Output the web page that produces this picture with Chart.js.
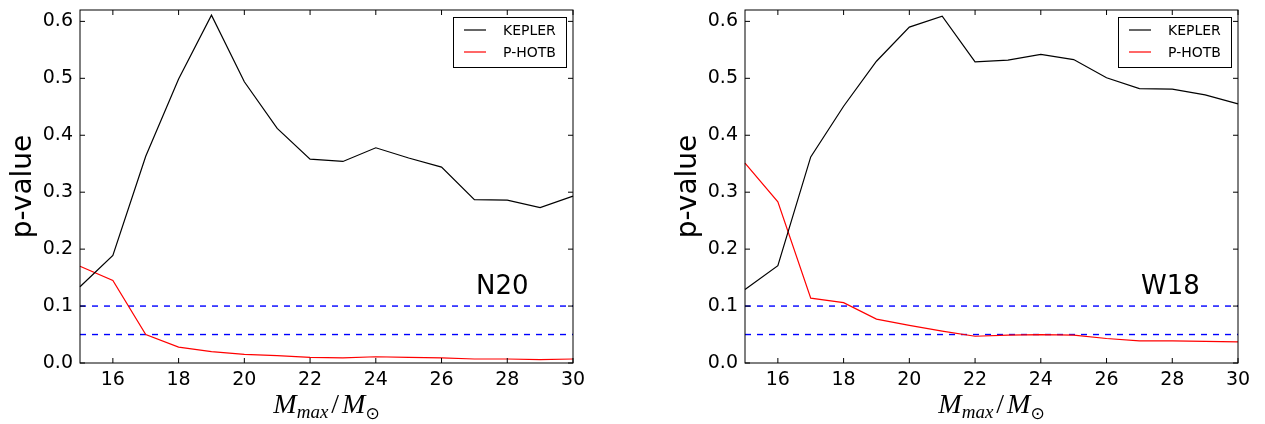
<!DOCTYPE html>
<html>
<head>
<meta charset="utf-8">
<script src="https://cdn.jsdelivr.net/npm/chart.js@4.4.1/dist/chart.umd.min.js"></script>
<style>
  html, body { margin: 0; padding: 0; background: #fff; overflow: hidden; }
  body { width: 1265px; height: 424px; position: relative; }
  canvas { position: absolute; top: 0; }
  #c1 { left: 0; }
  #c2 { left: 665px; }
</style>
</head>
<body>
<canvas id="c1" width="632" height="424"></canvas>
<canvas id="c2" width="600" height="424"></canvas>
<script>
// ---- data ----
const masses = [15, 16, 17, 18, 19, 20, 21, 22, 23, 24, 25, 26, 27, 28, 29, 30];
const keplerN20 = [0.134, 0.189, 0.363, 0.499, 0.611, 0.494, 0.412, 0.358, 0.354, 0.378, 0.360, 0.344, 0.287, 0.286, 0.273, 0.293];
const photbN20  = [0.170, 0.145, 0.050, 0.028, 0.020, 0.015, 0.013, 0.010, 0.009, 0.011, 0.010, 0.009, 0.007, 0.007, 0.006, 0.007];
const keplerW18 = [0.129, 0.171, 0.362, 0.451, 0.530, 0.590, 0.609, 0.529, 0.532, 0.542, 0.533, 0.501, 0.482, 0.481, 0.471, 0.455];
const photbW18  = [0.351, 0.283, 0.114, 0.106, 0.077, 0.066, 0.056, 0.047, 0.049, 0.050, 0.049, 0.043, 0.039, 0.039, 0.038, 0.037];
const thresholds = [0.1, 0.05];
const xTicks = [16, 18, 20, 22, 24, 26, 28, 30];
const yTicks = [0.0, 0.1, 0.2, 0.3, 0.4, 0.5, 0.6];
const seriesNames = ['KEPLER', 'P-HOTB'];
const panelLabels = ['N20', 'W18'];
const yLabel = 'p-value';

const toPts = arr => arr.map((v, i) => ({x: masses[i], y: v}));

const extras = {
  id: 'extras',
  afterDatasetsDraw(chart, args, opts) {
    const ctx = chart.ctx;
    const a = chart.chartArea;
    const xs = chart.scales.x, ys = chart.scales.y;
    ctx.save();
    // frame
    ctx.strokeStyle = '#000';
    ctx.lineWidth = 1;
    ctx.strokeRect(a.left, a.top, a.right - a.left, a.bottom - a.top);
    // inward ticks
    const tl = 5;
    ctx.beginPath();
    xTicks.forEach(t => {
      const px = xs.getPixelForValue(t);
      ctx.moveTo(px, a.bottom); ctx.lineTo(px, a.bottom - tl);
      ctx.moveTo(px, a.top); ctx.lineTo(px, a.top + tl);
    });
    yTicks.forEach(t => {
      const py = ys.getPixelForValue(t);
      ctx.moveTo(a.left, py); ctx.lineTo(a.left + tl, py);
      ctx.moveTo(a.right, py); ctx.lineTo(a.right - tl, py);
    });
    ctx.stroke();

    // legend
    const bx = a.right - 120, by = a.top + 7, bw = 113, bh = 50;
    ctx.fillStyle = '#fff';
    ctx.fillRect(bx, by, bw, bh);
    ctx.strokeStyle = '#000';
    ctx.strokeRect(bx + 0.5, by + 0.5, bw, bh);
    const cols = ['#000000', '#ff0000'];
    ctx.font = '14px "DejaVu Sans"';
    ctx.textBaseline = 'middle';
    ctx.textAlign = 'left';
    seriesNames.forEach((n, i) => {
      const yy = by + 13 + i * 22;
      ctx.strokeStyle = cols[i];
      ctx.lineWidth = 1.2;
      ctx.beginPath();
      ctx.moveTo(bx + 11, yy); ctx.lineTo(bx + 33, yy);
      ctx.stroke();
      ctx.fillStyle = '#000';
      ctx.fillText(n, bx + 50, yy + 1);
    });

    // panel label
    ctx.font = '26px "DejaVu Sans"';
    ctx.textBaseline = 'alphabetic';
    ctx.fillStyle = '#000';
    ctx.fillText(opts.label, a.right - 97, 294);

    // y label
    ctx.save();
    ctx.translate(a.left - 49, (a.top + a.bottom) / 2);
    ctx.rotate(-Math.PI / 2);
    ctx.font = '28px "DejaVu Sans"';
    ctx.textAlign = 'center';
    ctx.textBaseline = 'alphabetic';
    ctx.fillText(yLabel, 0, 0);
    ctx.restore();

    // x label: M_max / M_sun
    const big = 'italic 28px "Liberation Serif"';
    const bigUp = '28px "Liberation Serif"';
    const small = 'italic 19px "Liberation Serif"';
    const smallUp = '17px "DejaVu Sans"';
    const parts = [
      {t: 'M', f: big, dy: 0, gap: 0},
      {t: 'max', f: small, dy: 5, gap: 3},
      {t: '/', f: bigUp, dy: 0, gap: 3},
      {t: 'M', f: big, dy: 0, gap: 0},
      {t: '\u2299', f: smallUp, dy: 6, gap: 0}
    ];
    let w = 0;
    parts.forEach(p => { ctx.font = p.f; p.w = ctx.measureText(p.t).width + p.gap; w += p.w; });
    let x0 = (a.left + a.right) / 2 - w / 2;
    ctx.textAlign = 'left';
    parts.forEach(p => { ctx.font = p.f; ctx.fillText(p.t, x0, 413 + p.dy); x0 += p.w; });
    ctx.restore();
  }
};

function zeroPad(s) { s.paddingTop = 0; s.paddingBottom = 0; s.paddingLeft = 0; s.paddingRight = 0; }

function makeChart(id, kep, phot, label, rightPad) {
  const thrDs = thresholds.map(t => ({
    data: [{x: masses[0], y: t}, {x: masses[masses.length - 1], y: t}],
    borderColor: '#0000ff', borderWidth: 1.4, borderDash: [6, 6],
    pointRadius: 0, fill: false
  }));
  return new Chart(document.getElementById(id), {
    type: 'line',
    data: {
      datasets: [
        {label: seriesNames[0], data: toPts(kep), borderColor: '#000000', borderWidth: 1.2, pointRadius: 0, fill: false, tension: 0},
        {label: seriesNames[1], data: toPts(phot), borderColor: '#ff0000', borderWidth: 1.2, pointRadius: 0, fill: false, tension: 0},
        ...thrDs
      ]
    },
    options: {
      responsive: false,
      animation: false,
      devicePixelRatio: 1,
      clip: false,
      layout: {padding: {left: 0, right: rightPad, top: 10, bottom: 0}},
      plugins: {legend: {display: false}, tooltip: {enabled: false}, extras: {label: label}},
      scales: {
        x: {
          type: 'linear', min: 15, max: 30,
          grid: {display: false, drawTicks: false},
          border: {display: false},
          afterBuildTicks: s => { s.ticks = xTicks.map(v => ({value: v})); },
          afterFit: s => { s.height = 61; zeroPad(s); },
          ticks: {color: '#000', font: {family: 'DejaVu Sans', size: 19}, padding: 6, maxRotation: 0, autoSkip: false}
        },
        y: {
          type: 'linear', min: 0, max: 0.62,
          grid: {display: false, drawTicks: false},
          border: {display: false},
          afterBuildTicks: s => { s.ticks = yTicks.map(v => ({value: v})); },
          afterFit: s => { s.width = 80; zeroPad(s); },
          ticks: {color: '#000', font: {family: 'DejaVu Sans', size: 19}, padding: 7,
                  callback: v => Number(v).toFixed(1)}
        }
      }
    },
    plugins: [extras]
  });
}

makeChart('c1', keplerN20, photbN20, panelLabels[0], 59);
makeChart('c2', keplerW18, photbW18, panelLabels[1], 27);
</script>
</body>
</html>
